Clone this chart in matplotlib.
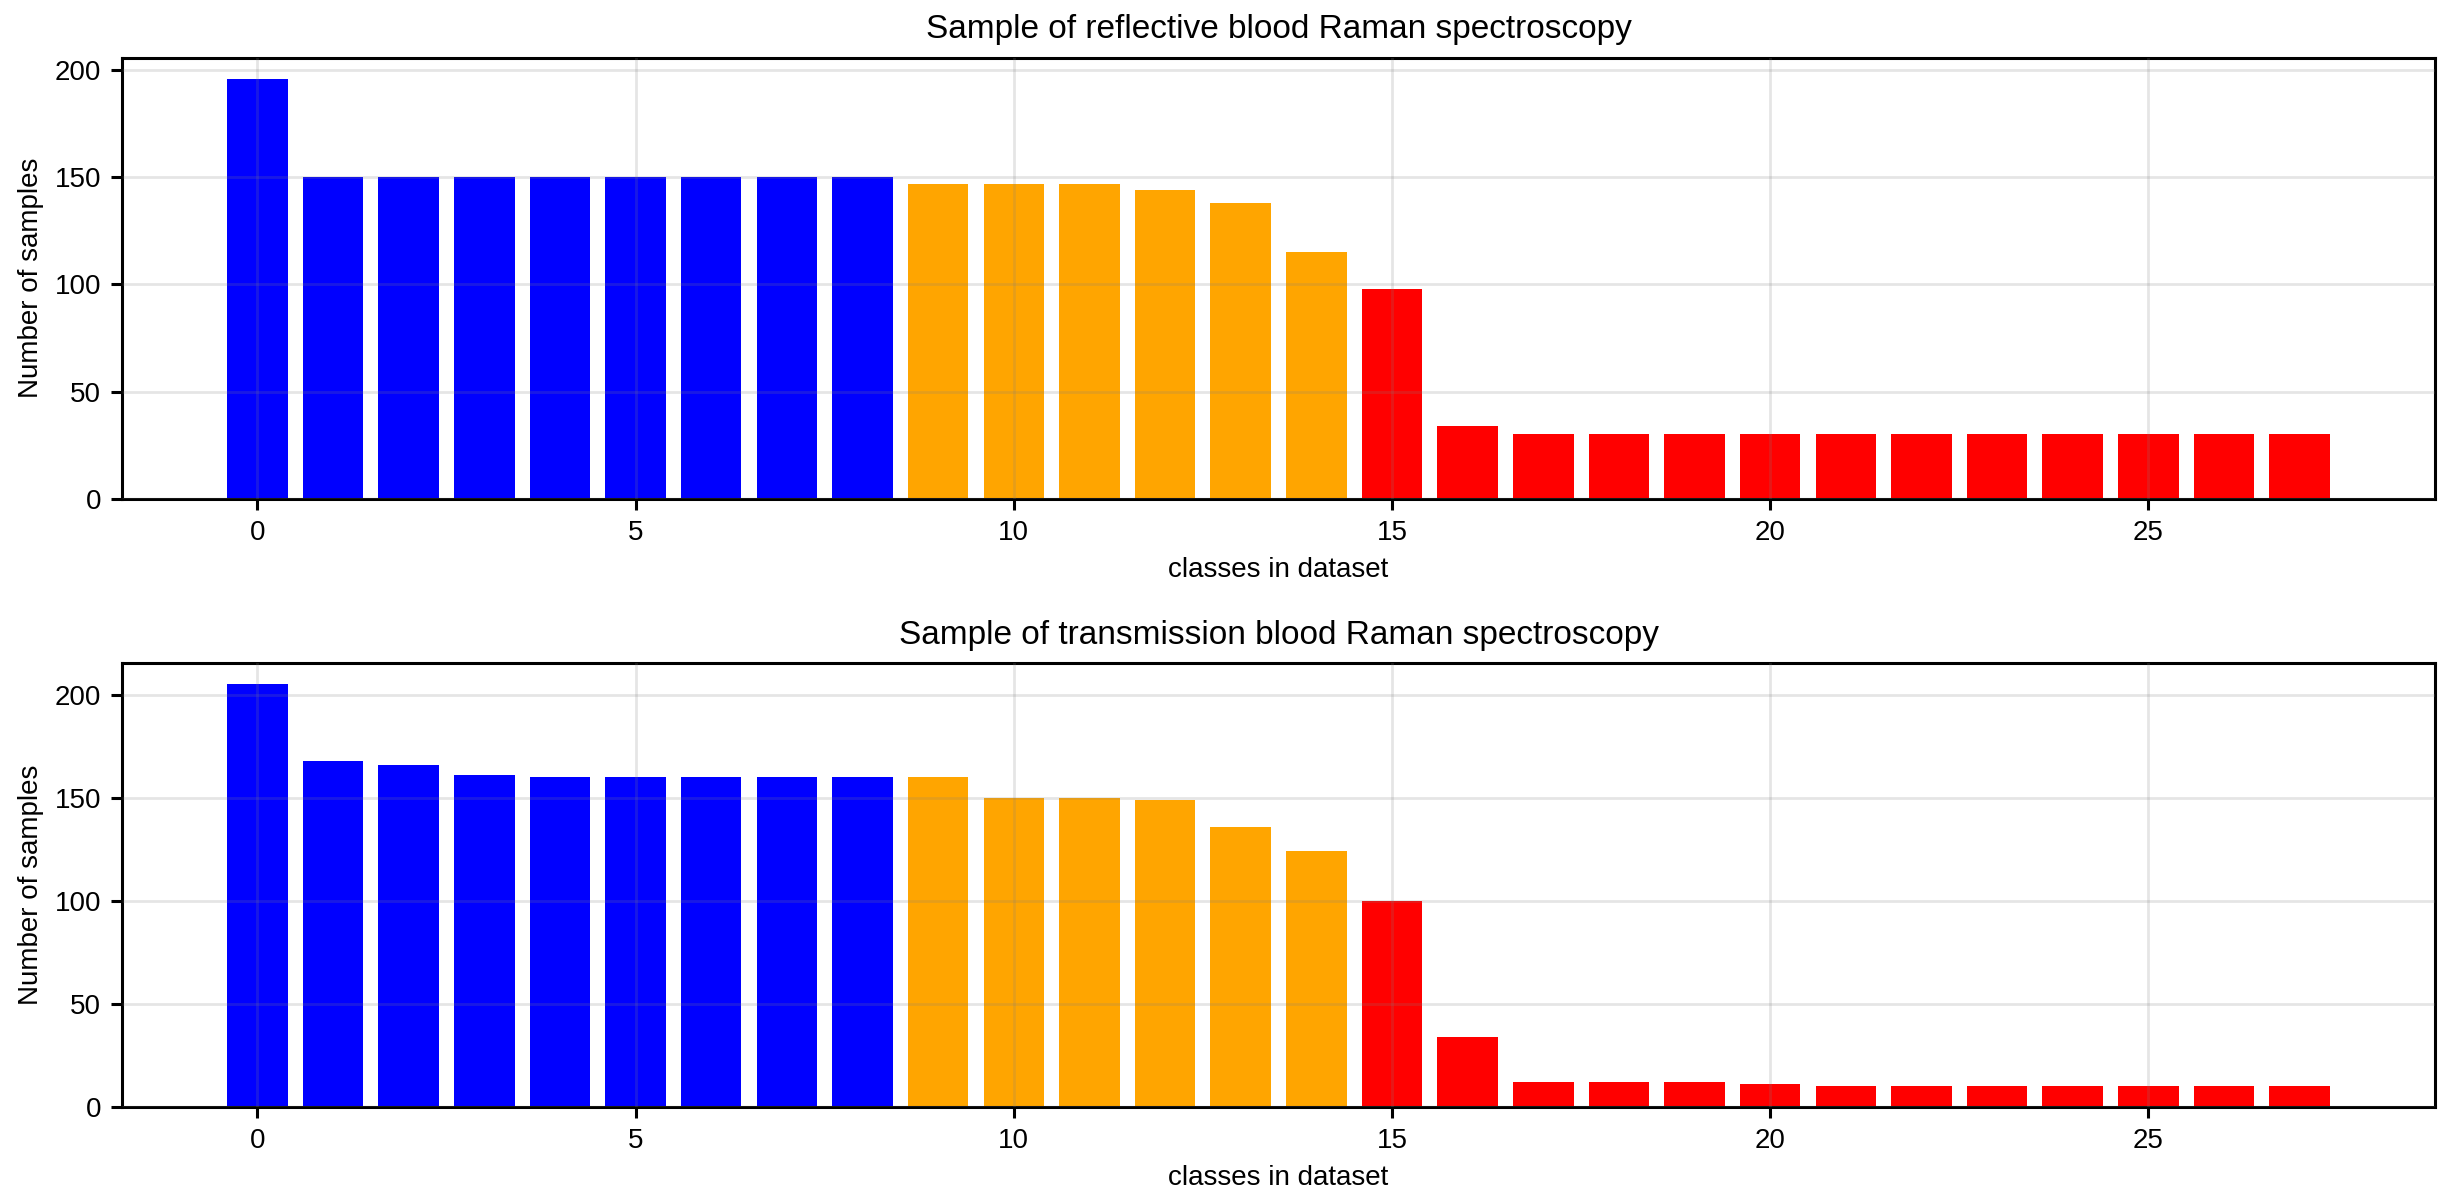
import matplotlib
matplotlib.use("Agg")
import matplotlib.pyplot as plt
import numpy as np

plt.rcParams['font.family'] = ['Liberation Sans', 'DejaVu Sans']

classes = list(range(28))
reflective_counts = [196, 150, 150, 150, 150, 150, 150, 150, 150,
                     147, 147, 147, 144, 138, 115,
                     98, 34, 30, 30, 30, 30, 30, 30, 30, 30, 30, 30, 30]
transmission_counts = [205, 168, 166, 161, 160, 160, 160, 160, 160,
                       160, 150, 150, 149, 136, 124,
                       100, 34, 12, 12, 12, 11, 10, 10, 10, 10, 10, 10, 10]
group_colors = ['blue'] * 9 + ['orange'] * 6 + ['red'] * 13
titles = ['Sample of reflective blood Raman spectroscopy',
          'Sample of transmission blood Raman spectroscopy']
xlabel = 'classes in dataset'
ylabel = 'Number of samples'

fig = plt.figure(figsize=(12.25, 5.995), dpi=200)
ax1 = fig.add_axes([0.0498, 0.584, 0.9441, 0.368])
ax2 = fig.add_axes([0.0498, 0.0767, 0.9441, 0.3703])

for ax, counts, title in [(ax1, reflective_counts, titles[0]),
                          (ax2, transmission_counts, titles[1])]:
    ax.bar(classes, counts, width=0.8, color=group_colors)
    ax.set_title(title, fontsize=12, pad=7)
    ax.set_xlabel(xlabel, fontsize=10)
    ax.set_ylabel(ylabel, fontsize=10)
    ax.set_xticks([0, 5, 10, 15, 20, 25])
    ax.set_axisbelow(False)
    ax.grid(True, color='gray', alpha=0.2, linewidth=1.0)
    for s in ax.spines.values():
        s.set_linewidth(1.1)
    ax.tick_params(labelsize=10, length=4, width=1.1)

fig.savefig('out.png', dpi=200)
